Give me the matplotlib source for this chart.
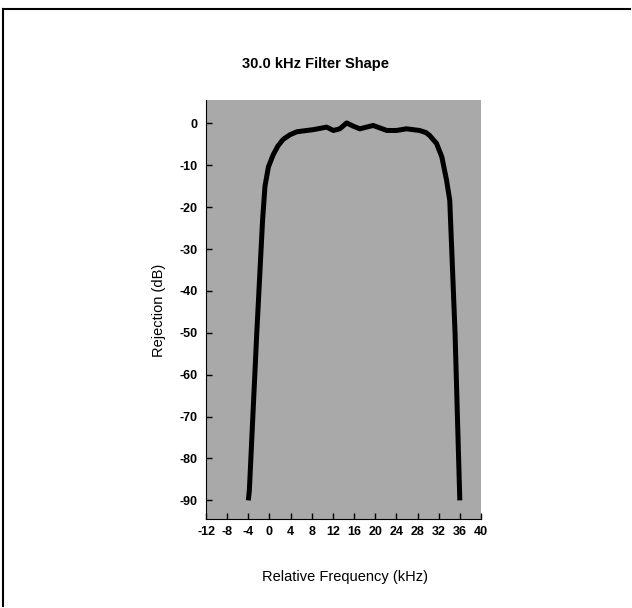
import matplotlib
matplotlib.use("Agg")
import matplotlib.pyplot as plt
from matplotlib.lines import Line2D

plt.rcParams['font.family'] = ['Liberation Sans', 'DejaVu Sans']
plt.rcParams['axes.unicode_minus'] = False

# filter response
freq = [-4.0, -3.8, -2.4, -1.3, -0.85, -0.2, 0.7, 1.6, 2.6, 3.9, 5.2, 8.3,
        10.8, 12.1, 13.3, 14.6, 15.9, 17.1, 19.6, 22.2, 24.0, 25.9, 28.4,
        29.6, 30.3, 31.6, 32.6, 33.5, 34.1, 35.1, 36.0]
rejection = [-90, -87.5, -50, -23, -15, -10.4, -7.5, -5.4, -3.8, -2.7, -2.0,
             -1.5, -0.9, -1.7, -1.3, 0.1, -0.7, -1.3, -0.5, -1.7, -1.7, -1.3,
             -1.7, -2.2, -2.9, -4.8, -8.0, -13.6, -18.4, -50, -90]

xticks = list(range(-12, 41, 4))
yticks = list(range(0, -91, -10))

fig = plt.figure(figsize=(6.32, 6.08), dpi=100)
ax = fig.add_axes([0.326, 0.146, 0.435, 0.689])
ax.set_facecolor('#a9a9a9')

ax.plot(freq, rejection, color='black', lw=3.6, solid_capstyle='butt',
        solid_joinstyle='round')

ax.set_xlim(-12, 40)
ax.set_ylim(-94.5, 5.5)
ax.set_xticks(xticks)
ax.set_yticks(yticks)
ax.tick_params(direction='in', length=4, width=1, labelsize=9)
ax.tick_params(axis='x', pad=5)
ax.tick_params(axis='y', pad=6)
for lab in ax.get_xticklabels() + ax.get_yticklabels():
    lab.set_fontweight('bold')
ax.spines['top'].set_visible(False)
ax.spines['right'].set_visible(False)

fig.text(0.5, 0.895, '30.0 kHz Filter Shape', ha='center', va='center',
         fontsize=10.5, fontweight='bold')
fig.text(0.252, 0.49, 'Rejection (dB)', rotation=90, ha='center',
         va='center', fontsize=10.5)
fig.text(0.546, 0.051, 'Relative Frequency (kHz)', ha='center',
         va='center', fontsize=10.5)

# outer frame (top and left edges)
fig.add_artist(Line2D([0.005, 0.997], [0.985, 0.985], color='black', lw=1.5,
                      transform=fig.transFigure))
fig.add_artist(Line2D([0.005, 0.005], [0.985, 0.003], color='black', lw=1.5,
                      transform=fig.transFigure))

fig.savefig('out.png', dpi=100)
